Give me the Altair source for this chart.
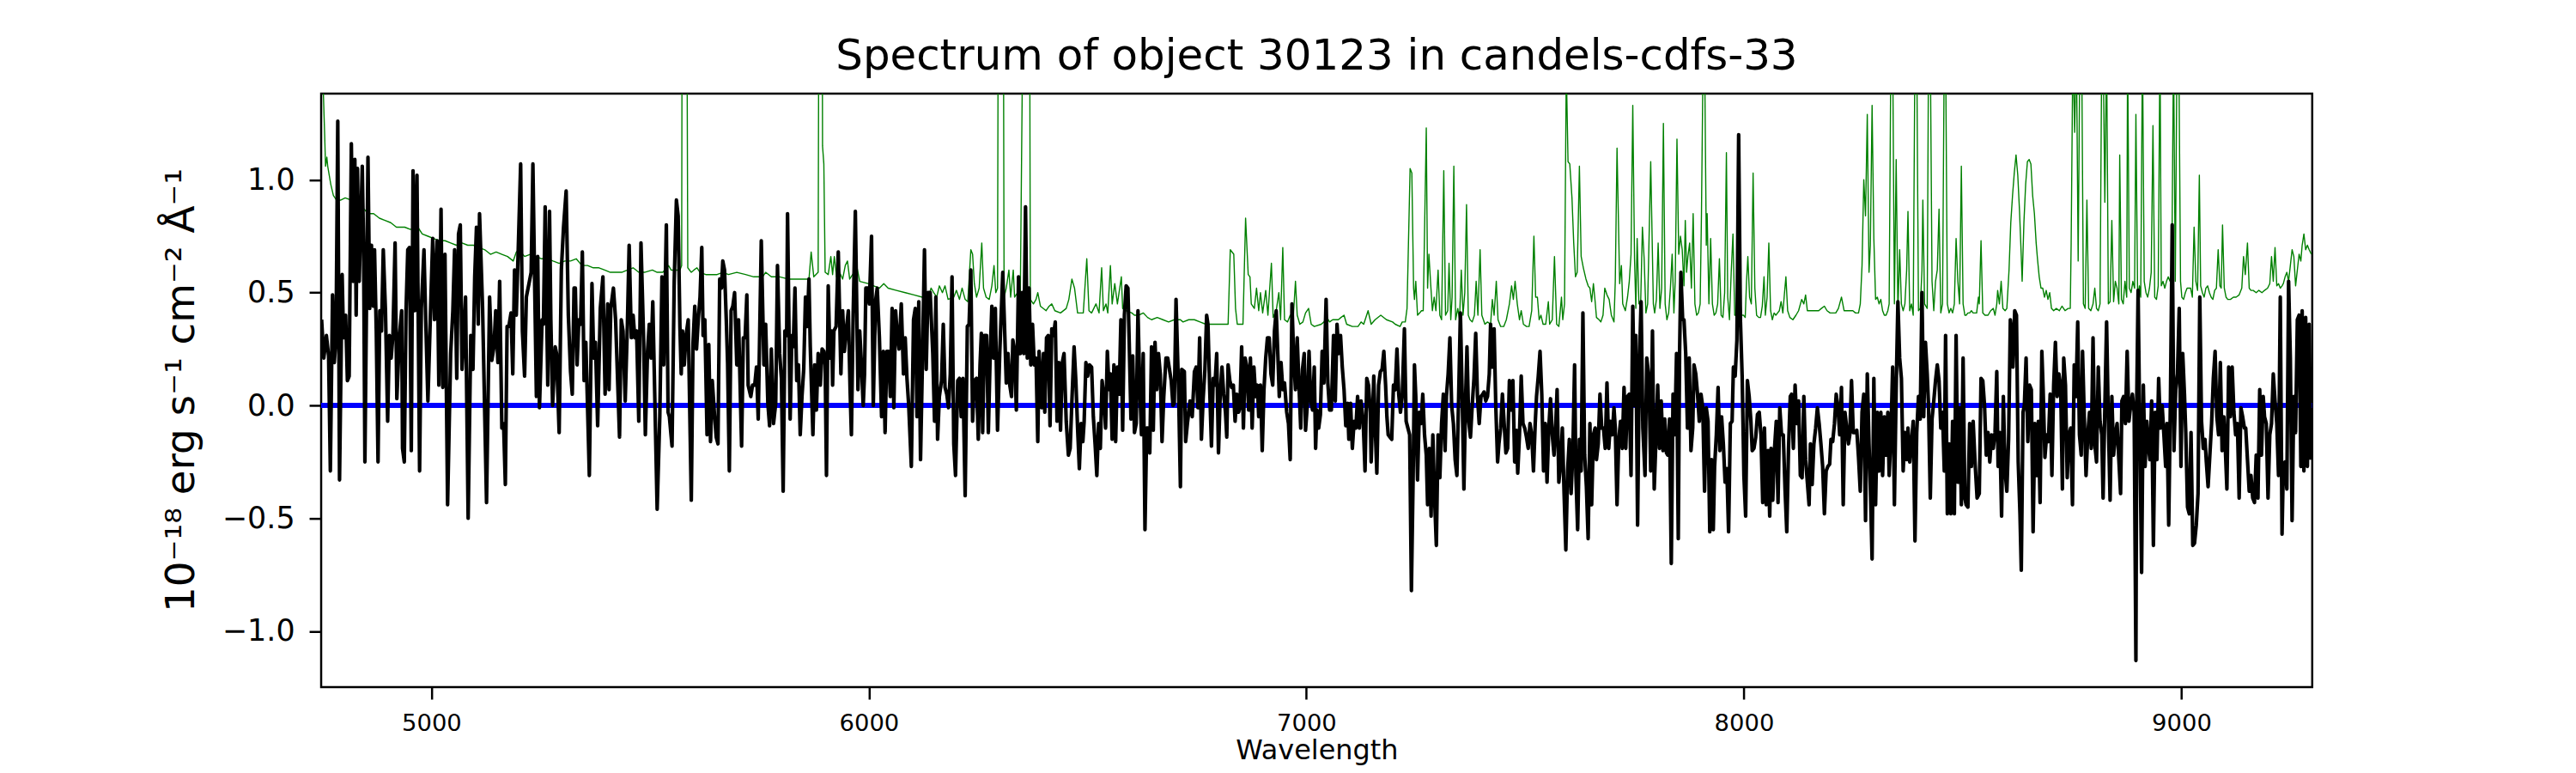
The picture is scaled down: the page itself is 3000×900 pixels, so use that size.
import altair as alt
import pandas as pd

# ---------------- black: object spectrum (flux) ----------------
a_wl = [4749, 4754, 4760, 4765, 4769, 4774, 4778, 4782, 4786, 4790,
        4796, 4799, 4804, 4808, 4812, 4817, 4821, 4825, 4828, 4831,
        4835, 4842, 4845, 4848, 4855, 4859, 4863, 4867, 4870, 4874,
        4878, 4882, 4886, 4890, 4895, 4900, 4904, 4908, 4912, 4917,
        4921, 4927, 4932, 4934, 4938, 4942, 4946, 4950, 4954, 4958,
        4962, 4967, 4973, 4977, 4983, 4987, 4992, 4998, 5003, 5007,
        5013, 5017, 5022, 5026, 5031, 5037, 5044, 5049, 5053, 5058,
        5062, 5066, 5070, 5074, 5078, 5084, 5090, 5095, 5099, 5103,
        5107, 5110, 5117, 5126, 5133, 5138, 5143, 5147, 5152, 5156,
        5161, 5165, 5169, 5173, 5177, 5182, 5186, 5190, 5194, 5198,
        5204, 5208, 5213, 5217, 5224, 5228, 5232, 5236, 5240, 5243,
        5247, 5253, 5256, 5260, 5266, 5270, 5273, 5277, 5283, 5286,
        5292, 5297, 5302, 5308, 5313, 5318, 5322, 5326, 5329, 5333,
        5337, 5341, 5345, 5349, 5353, 5361, 5367, 5371, 5375, 5380,
        5386, 5392, 5397, 5403, 5406, 5410, 5416, 5421, 5426, 5430,
        5434, 5438, 5443, 5448, 5452, 5457, 5461, 5465, 5469, 5474,
        5479, 5485, 5489, 5494, 5498, 5502, 5506]
a_flux = [0.38, 0.21, 0.31, 0.22, -0.29, 0.49, 0.19, 0.30, 1.26, -0.33,
          0.58, 0.30, 0.40, 0.11, 0.13, 1.16, 0.55, 1.09, 0.40, 1.05,
          0.55, 1.06, 0.70, -0.25, 1.10, 0.43, 0.71, 0.44, 0.69, 0.33,
          -0.25, 0.42, 0.33, 0.69, 0.42, -0.07, 0.31, 0.21, 0.31, 0.72,
          0.03, 0.31, 0.42, -0.19, -0.25, 0.42, 0.69, 0.70, -0.20, 1.04,
          0.42, 1.02, -0.29, 0.43, 0.69, 0.38, 0.02, 0.42, 0.74, 0.38,
          0.73, 0.09, 0.87, 0.08, 0.67, -0.44, 0.23, 0.42, 0.69, 0.12,
          0.76, 0.80, 0.16, 0.31, 0.48, -0.50, 0.31, 0.16, 0.57, 0.79,
          0.36, 0.85, 0.43, -0.43, 0.48, 0.20, 0.26, 0.42, 0.19, 0.55,
          -0.10, -0.08, -0.35, 0.35, 0.35, 0.41, 0.14, 0.60, 0.40, 0.66,
          1.07, 0.33, 0.13, 0.48, 0.55, 0.59, 1.07, 0.54, 0.04, 0.66,
          -0.01, 0.38, 0.36, 0.88, 0.09, 0.86, 0.38, 0.00, 0.26, 0.23,
          -0.12, 0.60, 0.79, 0.95, 0.40, 0.15, 0.05, 0.52, 0.52, 0.18,
          0.38, 0.36, 0.68, 0.11, 0.28, -0.31, 0.54, 0.21, 0.28, -0.09,
          0.43, 0.57, 0.05, 0.45, 0.07, 0.43, 0.52, 0.38, 0.09, -0.14,
          0.38, 0.33, 0.02, 0.36, 0.71, 0.30, 0.40, 0.30, 0.33, -0.07,
          0.72, 0.30, -0.13, 0.24, 0.36, 0.21, 0.46]

b_wl = [5516, 5522, 5527, 5531, 5537, 5541, 5544, 5550, 5555, 5560,
        5564, 5568, 5571, 5574, 5578, 5582, 5587, 5594, 5598, 5602,
        5606, 5610, 5614, 5618, 5621, 5625, 5630, 5634, 5638, 5642,
        5647, 5651, 5655, 5659, 5663, 5666, 5670, 5674, 5677, 5681,
        5685, 5689, 5693, 5698, 5702, 5709, 5713, 5717, 5721, 5724,
        5730, 5734, 5739, 5743, 5747, 5754, 5760, 5764, 5769, 5773,
        5777, 5782, 5787, 5791, 5796, 5800, 5804, 5808, 5812, 5814,
        5820, 5824, 5827, 5831, 5835, 5839, 5843, 5847, 5851, 5855,
        5859, 5863, 5866, 5872, 5876, 5880, 5884, 5889, 5893, 5897,
        5900, 5903, 5907, 5911, 5915, 5917, 5920, 5925, 5930, 5936,
        5940, 5944, 5947, 5953, 5957, 5960, 5964, 5969, 5975, 5979,
        5983, 5987, 5990, 5993, 5998, 6001, 6006, 6010, 6015, 6019,
        6024, 6029, 6033, 6037, 6041, 6045, 6049, 6053, 6057, 6061,
        6065, 6069, 6074, 6079, 6083, 6087, 6091, 6097, 6102, 6106,
        6110, 6114, 6118, 6122, 6127, 6131, 6135, 6140, 6146, 6150,
        6153, 6157, 6161, 6166, 6170, 6174, 6178, 6182, 6186, 6190,
        6194, 6198, 6203, 6207, 6211, 6215, 6220, 6225, 6229, 6233,
        6237, 6241, 6246, 6250, 6254, 6257, 6260, 6264]
b_flux = [-0.46, -0.05, 0.57, 0.18, 0.80, -0.03, -0.05, -0.18, 0.55, 0.91,
          0.84, 0.35, 0.14, 0.33, 0.18, 0.31, 0.38, -0.42, 0.28, 0.44,
          0.25, 0.38, 0.48, 0.70, 0.31, 0.38, -0.13, 0.27, -0.16, 0.11,
          -0.04, -0.14, -0.17, 0.56, 0.52, 0.64, 0.60, 0.38, 0.19, -0.29,
          0.42, 0.44, 0.50, 0.18, 0.38, -0.18, 0.30, 0.30, 0.49, 0.09,
          0.04, 0.09, 0.09, 0.17, -0.06, 0.73, 0.18, 0.36, 0.01, -0.09,
          0.25, -0.08, 0.01, 0.62, 0.23, 0.12, -0.38, 0.33, 0.31, 0.85,
          -0.06, 0.31, 0.26, 0.52, 0.11, 0.18, -0.13, 0.04, 0.16, 0.48,
          0.35, 0.56, 0.26, -0.13, 0.18, -0.02, 0.23, 0.09, 0.25, 0.24,
          0.18, -0.31, 0.53, 0.21, 0.33, 0.09, 0.33, 0.35, 0.68, 0.14,
          0.42, 0.24, 0.31, 0.42, 0.07, -0.13, 0.40, 0.86, 0.07, 0.33,
          0.18, 0.00, 0.14, 0.52, 0.52, 0.45, 0.75, 0.00, 0.46, 0.52,
          0.30, -0.05, 0.24, -0.12, 0.24, 0.24, 0.04, 0.43, -0.01, 0.42,
          0.31, 0.25, 0.45, 0.14, 0.30, 0.12, 0.00, -0.27, 0.38, 0.43,
          -0.05, 0.46, -0.24, 0.16, 0.69, 0.16, 0.50, 0.50, 0.23, -0.07,
          0.48, -0.15, 0.04, 0.11, 0.36, 0.08, 0.05, -0.01, 0.14, 0.57,
          -0.17, -0.31, 0.11, 0.12, -0.05, 0.12, -0.40, 0.35, 0.36, 0.60,
          -0.07, 0.11, 0.12, -0.15, 0.18, 0.32, -0.12, 0.31]

c_wl = [6269, 6273, 6277, 6281, 6285, 6289, 6294, 6299, 6306, 6310,
        6314, 6318, 6322, 6326, 6329, 6333, 6337, 6342, 6346, 6350,
        6354, 6358, 6362, 6366, 6370, 6374, 6378, 6382, 6386, 6389,
        6395, 6399, 6402, 6406, 6410, 6414, 6418, 6422, 6426, 6430,
        6434, 6438, 6442, 6446, 6451, 6456, 6460, 6464, 6469, 6473,
        6477, 6481, 6485, 6489, 6492, 6496, 6500, 6504, 6509, 6513,
        6517, 6521, 6525, 6529, 6533, 6537, 6541, 6545, 6549, 6552,
        6556, 6560, 6564, 6568, 6572, 6576, 6580, 6584, 6588, 6592,
        6595, 6599, 6603, 6607, 6611, 6615, 6619, 6623, 6627, 6631,
        6635, 6638, 6642, 6646, 6650, 6654, 6658, 6662, 6666, 6670,
        6674, 6679, 6683, 6687, 6691, 6695, 6698, 6702, 6708, 6712,
        6715, 6721, 6724, 6728, 6734, 6739, 6744, 6748, 6752, 6756,
        6760, 6764, 6768, 6772, 6775, 6779, 6783, 6787, 6791, 6795,
        6799, 6803, 6807, 6811, 6815, 6818, 6821, 6825, 6829, 6833,
        6837, 6841, 6845, 6848, 6852, 6856, 6860, 6864, 6868, 6872,
        6876, 6880, 6884, 6888, 6891, 6895, 6899, 6903, 6907, 6911,
        6915, 6919, 6923, 6927, 6931, 6935, 6938, 6942, 6946, 6950,
        6955, 6959, 6963, 6967, 6971, 6975, 6979, 6983, 6987, 6991,
        6995, 6998, 7002, 7006, 7010, 7014, 7018]
c_flux = [0.31, -0.12, 0.21, 0.44, 0.21, 0.43, -0.11, 0.23, 0.59, 0.35,
          0.10, 0.23, 0.09, 0.04, 0.29, 0.24, -0.02, 0.57, 0.23, 0.50,
          0.23, 0.88, 0.21, 0.52, 0.18, 0.36, 0.18, 0.21, -0.16, 0.24,
          -0.01, 0.23, -0.03, 0.30, 0.31, -0.09, 0.34, 0.31, 0.37, -0.07,
          0.19, -0.11, 0.19, 0.23, -0.07, -0.22, -0.19, 0.02, 0.26, 0.11,
          -0.10, -0.28, -0.08, -0.16, -0.07, 0.19, 0.13, 0.18, 0.17, -0.05,
          -0.17, -0.31, -0.08, -0.19, 0.11, 0.04, -0.10, 0.24, 0.07, 0.14,
          -0.15, 0.18, -0.16, 0.17, 0.05, 0.38, -0.11, 0.40, 0.53, 0.52,
          0.28, -0.06, 0.22, -0.12, -0.08, 0.42, 0.09, -0.13, 0.23, -0.55,
          -0.10, -0.10, -0.21, 0.26, -0.11, 0.28, 0.07, 0.23, 0.14, -0.16,
          0.04, 0.21, 0.21, 0.16, 0.11, 0.00, 0.01, 0.47, 0.05, -0.36,
          0.16, 0.15, -0.16, -0.08, 0.02, -0.05, 0.15, 0.17, -0.01, 0.30,
          -0.15, 0.03, 0.16, 0.40, 0.36, 0.07, -0.18, 0.12, 0.09, 0.23,
          -0.21, 0.05, 0.17, 0.05, -0.03, -0.14, 0.18, 0.11, 0.08, 0.09,
          -0.07, 0.05, -0.03, -0.01, 0.26, -0.10, 0.21, 0.17, -0.02, 0.21,
          -0.10, 0.17, 0.04, 0.09, -0.05, 0.09, -0.20, 0.07, 0.21, 0.30,
          0.30, 0.14, 0.09, 0.33, 0.42, 0.21, 0.04, 0.19, 0.07, 0.10,
          -0.03, -0.08, -0.24, 0.45, 0.21, 0.07, 0.30, 0.09, -0.10, 0.16,
          0.23, -0.11, 0.00, 0.24, 0.02, -0.02, 0.17]

d_wl = [7021, 7024, 7028, 7032, 7036, 7040, 7045, 7049, 7053, 7057,
        7062, 7066, 7070, 7074, 7078, 7082, 7086, 7090, 7094, 7097,
        7101, 7105, 7109, 7113, 7117, 7121, 7125, 7130, 7134, 7138,
        7142, 7146, 7148, 7154, 7157, 7161, 7165, 7169, 7173, 7177,
        7181, 7184, 7187, 7191, 7195, 7199, 7203, 7207, 7211, 7215,
        7219, 7224, 7228, 7232, 7236, 7240, 7244, 7247, 7250, 7254,
        7258, 7262, 7266, 7270, 7274, 7277, 7281, 7285, 7289, 7293,
        7297, 7301, 7305, 7309, 7313, 7317, 7320, 7324, 7328, 7332,
        7336, 7340, 7344, 7348, 7352, 7356, 7360, 7364, 7367, 7371,
        7375, 7379, 7383, 7387, 7391, 7395, 7399, 7403, 7406, 7410,
        7414, 7418, 7421, 7425, 7429, 7433, 7437, 7440, 7444, 7448,
        7452, 7456, 7460, 7464, 7468, 7472, 7476, 7480, 7483, 7487,
        7491, 7495, 7499, 7503, 7507, 7511, 7515, 7519, 7523, 7526,
        7530, 7534, 7538, 7542, 7546, 7550, 7554, 7558, 7562, 7566,
        7570, 7573, 7577, 7581, 7585, 7589, 7593, 7597, 7601, 7605,
        7609, 7613, 7616, 7620, 7624, 7628, 7632, 7636, 7640, 7644,
        7648, 7652, 7656, 7660, 7663, 7667, 7671, 7675, 7679, 7683,
        7687, 7691, 7695, 7699, 7703, 7706, 7710, 7714, 7718, 7722,
        7726, 7730, 7734, 7738, 7742, 7746, 7750, 7753, 7757, 7761,
        7765, 7769, 7774, 7778]
d_flux = [-0.19, -0.02, -0.10, -0.04, 0.24, 0.10, 0.47, 0.10, -0.02, -0.02,
          0.31, 0.02, 0.36, 0.23, 0.31, 0.17, 0.07, -0.09, 0.01, -0.15,
          0.01, -0.19, -0.07, -0.10, 0.04, -0.10, 0.02, -0.08, -0.29, 0.12,
          0.09, -0.03, -0.25, 0.13, -0.08, -0.30, 0.09, 0.15, 0.16, 0.24,
          0.09, -0.05, -0.13, -0.14, -0.15, 0.09, 0.07, 0.25, 0.05, -0.03,
          0.04, 0.34, -0.07, -0.10, -0.13, -0.82, -0.31, 0.18, 0.04, -0.33,
          -0.03, -0.08, 0.05, -0.13, -0.22, -0.44, -0.19, -0.49, -0.13, -0.41,
          -0.62, -0.13, -0.32, -0.08, 0.05, -0.20, 0.04, 0.14, 0.30, 0.00,
          -0.08, -0.24, -0.31, 0.04, 0.41, 0.05, -0.37, 0.04, 0.26, -0.07,
          -0.14, 0.00, 0.12, 0.32, 0.04, -0.08, 0.04, 0.05, 0.06, 0.02,
          0.04, 0.14, 0.36, 0.17, 0.34, -0.01, -0.25, -0.17, -0.10, 0.05,
          -0.08, -0.21, -0.19, 0.11, -0.02, 0.11, -0.25, -0.11, -0.30, -0.13,
          0.13, -0.08, -0.10, -0.14, -0.19, -0.08, -0.13, -0.29, -0.08, 0.04,
          0.13, 0.24, 0.05, -0.29, -0.08, -0.34, -0.10, 0.03, -0.13, -0.22,
          -0.08, 0.07, -0.34, -0.26, -0.10, -0.39, -0.64, -0.29, -0.15, -0.39,
          -0.21, 0.18, -0.31, -0.55, -0.15, -0.29, 0.41, -0.22, -0.36, -0.59,
          -0.08, -0.44, -0.13, -0.10, -0.24, -0.17, 0.05, -0.10, -0.10, -0.19,
          0.10, -0.19, -0.07, -0.13, -0.01, -0.10, -0.44, -0.15, -0.07, -0.19,
          0.08, -0.19, 0.04, 0.05, -0.31, 0.44, 0.00, 0.31, -0.53, 0.18,
          0.46, -0.10, -0.31, 0.21]

e_wl = [7783, 7787, 7791, 7795, 7799, 7803, 7807, 7811, 7815, 7819,
        7823, 7826, 7830, 7834, 7838, 7842, 7846, 7850, 7853, 7856,
        7860, 7863, 7867, 7871, 7875, 7879, 7883, 7886, 7890, 7894,
        7898, 7902, 7906, 7910, 7914, 7918, 7922, 7926, 7930, 7933,
        7937, 7941, 7945, 7949, 7953, 7957, 7961, 7965, 7969, 7973,
        7976, 7980, 7984, 7988, 7992, 7996, 8000, 8004, 8008, 8012,
        8016, 8019, 8023, 8027, 8031, 8035, 8039, 8043, 8047, 8051,
        8055, 8059, 8062, 8066, 8070, 8074, 8078, 8082, 8086, 8090,
        8094, 8098, 8102, 8106, 8109, 8113, 8117, 8121, 8125, 8129,
        8133, 8137, 8141, 8145, 8149, 8152, 8156, 8160, 8164, 8168,
        8172, 8176, 8180, 8184, 8188, 8192, 8196, 8199, 8203, 8207,
        8211, 8215, 8219, 8223, 8227, 8231, 8235, 8239, 8242, 8246,
        8250, 8254, 8258, 8262, 8266, 8270, 8274, 8278, 8282, 8286,
        8289, 8293, 8297, 8301, 8305, 8309, 8313, 8317, 8321, 8325,
        8329, 8332, 8336, 8340, 8344, 8348, 8352, 8356, 8360, 8364,
        8368, 8372, 8375, 8379, 8383, 8387, 8391, 8395, 8399, 8403,
        8407, 8411, 8415, 8419, 8422, 8426, 8430, 8434, 8438, 8442,
        8446, 8450, 8454, 8458, 8461, 8465, 8469, 8473, 8477, 8481,
        8485, 8489, 8493, 8497, 8501, 8505, 8508, 8512, 8516, 8520,
        8524, 8528, 8533]
e_flux = [0.12, -0.29, 0.33, -0.37, -0.15, 0.09, -0.19, 0.02, -0.20, -0.06,
          -0.21, -0.22, -0.06, -0.70, 0.05, -0.13, 0.23, -0.59, 0.24, 0.59,
          0.38, 0.38, 0.23, -0.10, 0.21, -0.20, -0.10, 0.18, 0.14, 0.05,
          -0.07, 0.05, -0.01, -0.38, -0.01, -0.07, -0.56, -0.24, -0.55, -0.27,
          -0.13, 0.08, -0.20, -0.05, -0.17, -0.34, -0.28, -0.56, -0.08, -0.07,
          0.17, 0.13, 0.29, 1.20, 0.38, 0.13, -0.31, -0.49, 0.11, 0.04,
          -0.07, -0.20, -0.19, -0.14, -0.04, -0.03, -0.13, -0.43, -0.10, -0.44,
          -0.20, -0.49, -0.19, -0.42, -0.19, -0.07, -0.43, -0.01, -0.13, -0.13,
          -0.37, -0.56, -0.19, 0.04, 0.05, -0.19, 0.09, -0.08, 0.02, -0.31,
          -0.32, 0.04, -0.24, -0.34, -0.44, -0.17, -0.35, -0.17, -0.10, -0.01,
          -0.08, -0.17, -0.27, -0.48, -0.29, -0.27, -0.26, -0.15, -0.16, -0.08,
          0.05, -0.01, -0.13, 0.08, -0.44, -0.03, -0.10, -0.17, -0.13, 0.11,
          -0.12, -0.12, -0.11, -0.23, -0.38, -0.03, 0.05, -0.51, 0.14, -0.17,
          -0.36, -0.68, 0.12, -0.44, -0.03, -0.29, -0.03, -0.31, -0.05, -0.22,
          -0.03, -0.31, -0.13, 0.17, -0.44, 0.07, 0.46, 0.21, 0.12, -0.29,
          -0.12, -0.24, -0.10, -0.25, -0.16, -0.07, -0.60, -0.12, 0.04, -0.06,
          0.50, -0.05, 0.28, 0.14, 0.00, -0.41, -0.06, 0.02, 0.11, 0.18,
          0.11, -0.10, -0.03, -0.29, 0.31, -0.48, -0.17, -0.48, -0.07, -0.48,
          0.31, -0.34, -0.01, -0.44, 0.21, -0.41, -0.44, -0.45, -0.08, -0.27,
          -0.07, -0.24, -0.41]

f_wl = [8538, 8542, 8546, 8550, 8554, 8558, 8562, 8566, 8570, 8574,
        8578, 8581, 8585, 8589, 8593, 8597, 8601, 8605, 8609, 8613,
        8615, 8619, 8623, 8627, 8631, 8634, 8638, 8641, 8645, 8649,
        8653, 8657, 8661, 8665, 8669, 8673, 8677, 8681, 8684, 8688,
        8692, 8696, 8700, 8704, 8708, 8712, 8716, 8720, 8724, 8728,
        8731, 8735, 8739, 8743, 8747, 8751, 8755, 8759, 8763, 8767,
        8771, 8774, 8778, 8782, 8786, 8790, 8794, 8798, 8802, 8806,
        8810, 8814, 8818, 8821, 8825, 8829, 8833, 8837, 8841, 8845,
        8849, 8853, 8857, 8861, 8864, 8868, 8872, 8876, 8880, 8884,
        8888, 8892, 8896, 8898, 8901, 8905, 8909, 8913, 8917, 8921,
        8924, 8928, 8932, 8936, 8940, 8944, 8948, 8952, 8956, 8960,
        8964, 8967, 8971, 8975, 8979, 8983, 8987, 8991, 8995, 8999,
        9003, 9007, 9010, 9014, 9018, 9022, 9026, 9030, 9034, 9038,
        9042, 9046, 9050, 9054, 9057, 9061, 9065, 9069, 9073, 9077,
        9081, 9085, 9089, 9093, 9097, 9100, 9104, 9108, 9112, 9116,
        9120, 9124, 9128, 9132, 9136, 9140, 9144, 9147, 9151, 9155,
        9159, 9163, 9167, 9171, 9175, 9179, 9183, 9187, 9190, 9194,
        9198, 9202, 9206, 9210, 9214, 9218, 9222, 9226, 9230, 9233,
        9237, 9241, 9245, 9249, 9253, 9257, 9261, 9265, 9269, 9273,
        9276, 9280, 9284, 9288, 9292, 9296]
f_flux = [-0.39, 0.12, 0.11, 0.00, -0.22, -0.12, -0.25, -0.13, -0.19, -0.12,
          0.15, -0.27, -0.12, -0.49, 0.04, -0.29, -0.38, -0.15, 0.38, 0.31,
          0.17, 0.42, 0.40, -0.25, -0.48, -0.73, -0.03, 0.00, 0.21, -0.16,
          0.09, 0.07, -0.56, -0.08, -0.31, -0.07, -0.43, 0.24, 0.07, -0.23,
          -0.13, -0.16, 0.05, -0.31, 0.09, 0.28, 0.04, 0.14, 0.09, -0.37,
          0.21, 0.09, -0.32, -0.13, -0.10, -0.44, 0.18, 0.04, 0.37, -0.13,
          -0.22, 0.24, -0.05, -0.31, -0.13, -0.03, -0.19, 0.30, -0.17, -0.25,
          0.17, -0.07, -0.13, -0.41, -0.01, 0.37, -0.07, -0.42, 0.04, -0.22,
          -0.13, -0.08, -0.24, -0.39, 0.02, 0.04, -0.08, 0.24, -0.07, 0.00,
          0.05, -0.03, -1.13, 0.04, 0.51, -0.13, -0.74, 0.09, -0.27, -0.07,
          -0.17, -0.24, 0.02, -0.62, -0.03, -0.24, 0.12, -0.10, 0.00, -0.13,
          -0.27, -0.08, -0.53, 0.04, 0.80, -0.20, 0.07, 0.14, 0.43, -0.27,
          0.23, 0.05, -0.12, -0.45, -0.48, -0.12, -0.62, -0.61, -0.53, -0.39,
          0.48, -0.07, -0.19, -0.15, -0.25, -0.36, -0.22, -0.08, 0.12, 0.24,
          -0.05, -0.13, 0.19, -0.20, -0.05, -0.17, -0.37, 0.17, -0.05, 0.17,
          -0.03, -0.13, -0.08, -0.41, -0.01, -0.05, -0.10, -0.10, -0.24, -0.38,
          -0.31, -0.41, -0.43, -0.22, -0.41, 0.07, -0.22, 0.04, -0.05, -0.08,
          -0.41, -0.13, -0.08, 0.14, 0.02, -0.08, -0.31, 0.48, -0.57, -0.27,
          -0.25, -0.37, 0.55, 0.21, -0.51, 0.04, -0.12, 0.38, 0.40, -0.27,
          0.42, -0.29, 0.39, -0.27, 0.36, -0.24]

# ---------------- green: noise / sky spectrum ----------------
ga_wl = [4748, 4752, 4756, 4758, 4761, 4763, 4770, 4776, 4783, 4793,
         4803, 4816, 4829, 4842, 4855, 4868, 4881, 4894, 4907, 4920,
         4939, 4952, 4969, 4979, 4992, 5005, 5018, 5031, 5044, 5057,
         5070, 5083, 5096, 5109, 5122, 5135, 5148, 5161, 5174, 5187,
         5194, 5200, 5213, 5226, 5239, 5252, 5265, 5278, 5292, 5305,
         5318, 5331, 5344, 5357, 5370, 5383, 5396, 5409, 5422, 5435,
         5448, 5461, 5474, 5487, 5505]
ga_flux = [1.6, 1.45, 1.20, 1.06, 1.10, 1.06, 0.98, 0.93, 0.91, 0.91,
           0.92, 0.91, 0.89, 0.88, 0.85, 0.85, 0.83, 0.82, 0.81, 0.79,
           0.79, 0.78, 0.79, 0.76, 0.75, 0.74, 0.73, 0.73, 0.72, 0.71,
           0.72, 0.71, 0.71, 0.70, 0.69, 0.67, 0.68, 0.67, 0.66, 0.64,
           0.68, 0.69, 0.66, 0.67, 0.66, 0.65, 0.65, 0.64, 0.63, 0.64,
           0.64, 0.65, 0.62, 0.62, 0.61, 0.61, 0.60, 0.59, 0.59, 0.59,
           0.60, 0.61, 0.59, 0.59, 0.60]

gb_wl = [5516, 5529, 5542, 5548, 5568, 5572, 5574, 5582, 5586, 5594,
         5600, 5607, 5614, 5627, 5640, 5653, 5666, 5679, 5698, 5718,
         5737, 5757, 5764, 5777, 5796, 5816, 5835, 5855, 5863, 5868,
         5874, 5884, 5887, 5892, 5894, 5897, 5900, 5907, 5913, 5917,
         5921, 5926, 5933, 5940, 5946, 5951, 5956, 5966, 5972, 5979,
         5998, 6011, 6024, 6034, 6044, 6063, 6083, 6103, 6122, 6135,
         6142, 6148, 6155, 6161, 6168, 6174, 6181, 6194, 6200, 6207,
         6213, 6220, 6226, 6233, 6237, 6241, 6246, 6252, 6258, 6262]
gb_flux = [0.59, 0.59, 0.62, 0.60, 0.60, 0.62, 3.0, 3.0, 0.61, 0.59,
           0.60, 0.61, 0.59, 0.58, 0.58, 0.58, 0.59, 0.58, 0.59, 0.58,
           0.57, 0.57, 0.59, 0.57, 0.57, 0.56, 0.56, 0.56, 0.56, 0.68,
           0.57, 0.59, 3.0, 3.0, 1.15, 1.07, 0.59, 0.58, 0.66, 0.58,
           0.66, 0.57, 0.59, 0.56, 0.62, 0.64, 0.56, 0.59, 0.62, 0.55,
           0.54, 0.53, 0.52, 0.54, 0.52, 0.51, 0.50, 0.49, 0.48, 0.47,
           0.52, 0.50, 0.48, 0.53, 0.50, 0.53, 0.47, 0.48, 0.51, 0.47,
           0.52, 0.47, 0.46, 0.69, 0.67, 0.54, 0.48, 0.52, 0.72, 0.52]

gc_wl = [6268, 6275, 6281, 6286, 6290, 6294, 6297, 6306, 6309, 6314,
         6320, 6324, 6330, 6333, 6340, 6346, 6358, 6366, 6369, 6376,
         6382, 6386, 6392, 6405, 6412, 6418, 6425, 6438, 6451, 6457,
         6464, 6470, 6477, 6490, 6498, 6503, 6509, 6519, 6526, 6532,
         6536, 6542, 6546, 6552, 6556, 6562, 6568, 6577, 6580, 6588,
         6601, 6607, 6617, 6627, 6637, 6646, 6659, 6672, 6685, 6698,
         6712, 6718, 6731, 6744, 6757, 6770, 6783, 6796, 6821, 6826,
         6834, 6838, 6842, 6855, 6861, 6867, 6871, 6874, 6881, 6886,
         6891, 6895, 6900, 6907, 6912, 6920, 6924, 6931, 6937, 6941,
         6946, 6950, 6957, 6963, 6969, 6975, 6979, 6985, 6992, 6998,
         7005, 7011, 7018]
gc_flux = [0.48, 0.47, 0.53, 0.62, 0.50, 0.52, 3.0, 3.0, 0.48, 0.52,
           0.60, 0.48, 0.60, 0.48, 0.50, 0.47, 3.0, 3.0, 0.47, 0.45,
           0.47, 0.50, 0.44, 0.42, 0.44, 0.45, 0.42, 0.41, 0.43, 0.47,
           0.56, 0.52, 0.41, 0.41, 0.65, 0.42, 0.41, 0.45, 0.41, 0.61,
           0.42, 0.45, 0.41, 0.62, 0.45, 0.54, 0.45, 0.57, 0.43, 0.42,
           0.41, 0.40, 0.40, 0.41, 0.39, 0.38, 0.39, 0.38, 0.37, 0.38,
           0.38, 0.37, 0.38, 0.38, 0.37, 0.36, 0.36, 0.36, 0.36, 0.69,
           0.67, 0.43, 0.36, 0.36, 0.83, 0.58, 0.57, 0.45, 0.43, 0.52,
           0.42, 0.50, 0.41, 0.51, 0.40, 0.63, 0.39, 0.42, 0.50, 0.38,
           0.70, 0.38, 0.37, 0.40, 0.36, 0.55, 0.40, 0.36, 0.37, 0.41,
           0.43, 0.36, 0.35]

gd_wl = [7034, 7040, 7047, 7053, 7060, 7073, 7079, 7086, 7092, 7105,
         7118, 7125, 7131, 7141, 7148, 7157, 7170, 7183, 7197, 7203,
         7214, 7219, 7226, 7230, 7237, 7241, 7245, 7247, 7250, 7254,
         7259, 7263, 7267, 7274, 7277, 7280, 7284, 7288, 7292, 7296,
         7301, 7305, 7309, 7314, 7318, 7323, 7326, 7330, 7333, 7337,
         7341, 7346, 7350, 7354, 7358, 7362, 7366, 7370, 7374, 7379,
         7384, 7388, 7392, 7397, 7401, 7408, 7414, 7421, 7425, 7429,
         7434, 7438, 7444, 7451, 7457, 7464, 7469, 7473, 7477, 7482,
         7487, 7491, 7496, 7503, 7509, 7515, 7520, 7524, 7528, 7532,
         7536, 7541, 7547, 7553, 7556, 7562, 7567, 7572, 7577, 7583,
         7586, 7590, 7594, 7598, 7602, 7607, 7611, 7615, 7619, 7624,
         7628, 7633, 7639, 7644, 7648, 7652, 7656, 7660, 7663, 7669,
         7673, 7678, 7682, 7687, 7692, 7697, 7703, 7706, 7710, 7716,
         7720, 7723, 7729, 7734, 7738, 7742, 7746, 7750, 7753, 7756,
         7760, 7764, 7768, 7772, 7776]
gd_flux = [0.36, 0.37, 0.39, 0.37, 0.38, 0.38, 0.39, 0.40, 0.36, 0.35,
           0.35, 0.37, 0.36, 0.42, 0.36, 0.38, 0.40, 0.38, 0.37, 0.36,
           0.35, 0.37, 0.37, 0.43, 1.05, 1.03, 0.52, 0.47, 0.55, 0.40,
           0.41, 0.42, 0.42, 1.23, 0.52, 0.67, 0.54, 0.42, 0.48, 0.42,
           0.60, 0.40, 0.38, 1.04, 0.40, 0.42, 0.63, 0.38, 0.48, 1.06,
           0.38, 0.43, 0.38, 0.60, 0.40, 0.50, 0.89, 0.40, 0.38, 0.37,
           0.40, 0.55, 0.40, 0.69, 0.40, 0.36, 0.37, 0.36, 0.47, 0.40,
           0.55, 0.38, 0.35, 0.35, 0.38, 0.45, 0.53, 0.47, 0.55, 0.45,
           0.38, 0.42, 0.36, 0.35, 0.35, 0.42, 0.75, 0.48, 0.48, 0.38,
           0.40, 0.36, 0.36, 0.46, 0.36, 0.38, 0.66, 0.36, 0.35, 0.48,
           0.38, 0.45, 1.5, 1.08, 1.07, 0.92, 0.72, 0.57, 0.59, 1.06,
           0.66, 0.61, 0.56, 0.53, 0.52, 0.46, 0.54, 0.46, 0.39, 0.38,
           0.37, 0.40, 0.52, 0.49, 0.47, 0.40, 0.37, 0.55, 1.14, 0.54,
           0.62, 0.45, 0.42, 0.48, 0.55, 0.67, 1.33, 0.65, 0.43, 0.74,
           0.45, 0.45, 0.79, 0.65, 0.41]

ge_wl = [7780, 7787, 7793, 7796, 7800, 7804, 7808, 7812, 7816, 7820,
         7824, 7828, 7832, 7836, 7840, 7843, 7847, 7851, 7855, 7859,
         7863, 7866, 7869, 7872, 7876, 7880, 7884, 7888, 7892, 7896,
         7900, 7903, 7907, 7910, 7914, 7916, 7920, 7924, 7928, 7932,
         7936, 7940, 7944, 7948, 7952, 7956, 7960, 7963, 7967, 7971,
         7975, 7979, 7983, 7987, 7991, 7995, 7999, 8003, 8006, 8009,
         8013, 8017, 8021, 8025, 8029, 8034, 8038, 8042, 8046, 8049,
         8053, 8057, 8061, 8065, 8069, 8073, 8077, 8081, 8085, 8089,
         8092, 8096, 8100, 8105, 8112, 8119, 8125, 8132, 8137, 8141,
         8145, 8151, 8158, 8164, 8171, 8177, 8184, 8190, 8197, 8203,
         8210, 8216, 8223, 8229, 8236, 8242, 8249, 8255, 8262, 8266,
         8270, 8274, 8278, 8282, 8286, 8289, 8293, 8297, 8301, 8305,
         8309, 8313, 8317, 8321, 8325, 8329, 8332, 8336, 8340, 8344,
         8348, 8352, 8356, 8360, 8364, 8368, 8372, 8375, 8379, 8383,
         8387, 8391, 8395, 8399, 8403, 8407, 8409, 8413, 8419, 8422,
         8426, 8430, 8434, 8438, 8442, 8446, 8450, 8454, 8458, 8461,
         8465, 8469, 8473, 8477, 8481, 8485, 8489, 8493, 8497, 8501,
         8505, 8508, 8512, 8516, 8520, 8524, 8528, 8532, 8536]
ge_flux = [0.45, 1.08, 0.45, 0.41, 0.47, 0.72, 0.43, 0.52, 1.25, 0.45,
           0.38, 0.41, 0.52, 0.67, 0.41, 0.55, 1.18, 0.67, 0.75, 0.69,
           0.53, 0.82, 0.59, 0.66, 0.72, 0.52, 0.85, 0.45, 0.40, 0.41,
           0.45, 0.85, 1.6, 1.6, 0.71, 0.85, 0.45, 0.74, 0.45, 0.40,
           0.41, 0.45, 0.65, 0.40, 0.39, 0.50, 1.12, 0.48, 0.38, 0.59,
           0.76, 0.40, 0.40, 0.41, 0.48, 0.40, 0.40, 0.39, 0.55, 0.66,
           0.48, 0.45, 1.03, 0.52, 0.40, 0.39, 0.39, 0.44, 0.57, 0.40,
           0.48, 0.72, 0.42, 0.38, 0.41, 0.40, 0.41, 0.42, 0.46, 0.41,
           0.48, 0.57, 0.42, 0.39, 0.38, 0.40, 0.42, 0.47, 0.45, 0.49,
           0.42, 0.42, 0.42, 0.42, 0.42, 0.43, 0.44, 0.42, 0.41, 0.41,
           0.41, 0.43, 0.48, 0.42, 0.42, 0.42, 0.42, 0.41, 0.41, 0.45,
           0.62, 1.00, 0.84, 1.29, 0.59, 0.71, 1.33, 0.74, 0.47, 0.48,
           0.45, 0.47, 0.42, 0.40, 0.40, 0.42, 0.45, 1.6, 1.6, 0.45,
           1.09, 0.42, 0.69, 0.45, 0.42, 0.45, 0.60, 0.86, 0.42, 0.45,
           0.40, 1.6, 1.6, 0.42, 0.43, 0.60, 0.91, 0.45, 0.43, 1.6,
           1.6, 0.55, 0.42, 0.55, 0.60, 0.87, 0.41, 0.45, 1.6, 1.6,
           0.45, 0.41, 0.43, 0.41, 0.45, 0.74, 0.55, 0.45, 1.06, 0.45,
           0.40, 0.40, 0.41, 0.41, 0.42, 0.41, 0.41, 0.41, 0.48]

gf_wl = [8538, 8542, 8546, 8551, 8558, 8564, 8570, 8574, 8578, 8580,
         8584, 8588, 8592, 8597, 8601, 8606, 8610, 8614, 8618, 8622,
         8626, 8630, 8634, 8636, 8640, 8644, 8648, 8652, 8656, 8660,
         8664, 8668, 8671, 8675, 8679, 8683, 8687, 8691, 8695, 8699,
         8703, 8708, 8714, 8721, 8727, 8734, 8741, 8746, 8748, 8752,
         8756, 8760, 8764, 8768, 8772, 8776, 8780, 8784, 8788, 8793,
         8798, 8802, 8806, 8810, 8814, 8818, 8821, 8825, 8829, 8833,
         8837, 8841, 8845, 8849, 8853, 8857, 8859, 8863, 8867, 8871,
         8875, 8877, 8881, 8885, 8889, 8893, 8896, 8900, 8904, 8907,
         8911, 8915, 8919, 8923, 8927, 8931, 8935, 8939, 8943, 8947,
         8951, 8954, 8958, 8962, 8966, 8970, 8974, 8978, 8982, 8986,
         8990, 8994, 8998, 9001, 9005, 9009, 9013, 9017, 9021, 9025,
         9029, 9033, 9037, 9041, 9044, 9048, 9052, 9056, 9060, 9064,
         9068, 9072, 9076, 9080, 9084, 9088, 9091, 9094, 9098, 9102,
         9106, 9112, 9119, 9125, 9132, 9138, 9142, 9146, 9151, 9155,
         9159, 9164, 9171, 9177, 9184, 9190, 9197, 9202, 9206, 9210,
         9214, 9218, 9222, 9226, 9230, 9233, 9237, 9241, 9245, 9249,
         9253, 9257, 9261, 9265, 9269, 9273, 9276, 9280, 9284, 9288,
         9292, 9297]
gf_flux = [0.45, 0.73, 0.41, 0.40, 0.40, 0.42, 0.43, 0.40, 0.45, 0.51,
           0.45, 0.55, 0.43, 0.42, 0.43, 0.60, 0.81, 0.93, 1.03, 1.11,
           1.02, 0.86, 0.66, 0.55, 0.81, 0.98, 1.08, 1.09, 1.07, 0.93,
           0.85, 0.72, 0.65, 0.57, 0.52, 0.52, 0.48, 0.51, 0.47, 0.50,
           0.43, 0.42, 0.43, 0.42, 0.44, 0.42, 0.43, 0.43, 0.72, 1.6,
           1.21, 1.6, 0.64, 1.6, 1.6, 0.45, 0.43, 0.91, 0.43, 0.42,
           0.45, 0.52, 0.43, 0.42, 0.45, 1.6, 1.6, 0.90, 1.6, 0.45,
           0.46, 0.82, 0.46, 0.55, 0.52, 0.45, 1.11, 0.47, 0.45, 0.55,
           0.48, 1.6, 0.52, 0.50, 0.55, 0.52, 1.29, 0.48, 0.53, 0.48,
           1.6, 0.55, 0.50, 0.48, 0.52, 0.59, 1.24, 0.48, 0.47, 0.53,
           1.6, 0.53, 0.55, 0.52, 0.55, 0.57, 0.55, 0.59, 1.6, 0.55,
           1.6, 1.6, 0.55, 0.48, 0.47, 0.50, 0.52, 0.52, 0.52, 0.48,
           0.79, 0.55, 0.51, 1.02, 0.53, 0.50, 0.48, 0.52, 0.53, 0.50,
           0.48, 0.47, 0.51, 0.52, 0.69, 0.53, 0.52, 0.80, 0.52, 0.48,
           0.47, 0.47, 0.48, 0.48, 0.49, 0.52, 0.66, 0.58, 0.72, 0.52,
           0.51, 0.51, 0.50, 0.51, 0.50, 0.51, 0.52, 0.54, 0.66, 0.55,
           0.70, 0.53, 0.54, 0.52, 0.53, 0.54, 0.57, 0.59, 0.55, 0.62,
           0.69, 0.66, 0.53, 0.60, 0.67, 0.64, 0.71, 0.76, 0.69, 0.71,
           0.69, 0.67]

x_ticks = [5000, 6000, 7000, 8000, 9000]
y_ticks = [-1.0, -0.5, 0.0, 0.5, 1.0]
x_domain = [4748, 9299]
y_domain = [-1.248, 1.382]


def pairs(wls, fluxes):
    n = min(len(wls), len(fluxes))
    return wls[:n], fluxes[:n]


bw, bf = [], []
for w, f in [(a_wl, a_flux), (b_wl, b_flux), (c_wl, c_flux),
             (d_wl, d_flux), (e_wl, e_flux), (f_wl, f_flux)]:
    w2, f2 = pairs(w, f)
    bw += w2
    bf += f2
gw, gfl = [], []
for w, f in [(ga_wl, ga_flux), (gb_wl, gb_flux), (gc_wl, gc_flux),
             (gd_wl, gd_flux), (ge_wl, ge_flux), (gf_wl, gf_flux)]:
    w2, f2 = pairs(w, f)
    gw += w2
    gfl += f2

black_df = pd.DataFrame({"wl": bw, "flux": bf})
green_df = pd.DataFrame({"wl": gw, "flux": gfl})

FONT = "DejaVu Sans"

x_enc = alt.X(
    "wl:Q",
    scale=alt.Scale(domain=x_domain, nice=False, zero=False),
    axis=alt.Axis(
        values=x_ticks, format="d", title="Wavelength",
        labelFontSize=27.5, titleFontSize=32, labelFont=FONT, titleFont=FONT,
        titleFontWeight="normal", labelColor="black", titleColor="black",
        tickColor="black", tickWidth=2.5, tickSize=14, labelPadding=15,
        titleY=84, titleBaseline="alphabetic", grid=False, domain=False,
        labelFlush=False,
    ),
)
y_enc = alt.Y(
    "flux:Q",
    scale=alt.Scale(domain=y_domain, nice=False, zero=False),
    axis=alt.Axis(
        values=y_ticks, format=".1f", title="10⁻¹⁸ erg s⁻¹ cm⁻² Å⁻¹",
        labelFontSize=35, titleFontSize=47, labelFont=FONT, titleFont=FONT,
        titleFontWeight="normal", labelColor="black", titleColor="black",
        tickColor="black", tickWidth=2.5, tickSize=14, labelPadding=17,
        titleAngle=270, titleX=-149, titleY=346, titleAlign="center",
        titleBaseline="alphabetic", grid=False, domain=False, labelFlush=False,
    ),
)

zero_rule = alt.Chart(black_df).mark_rule(color="#0000ff", strokeWidth=5.5).encode(
    y=alt.datum(0.0)
)

green_line = alt.Chart(green_df).mark_line(
    color="#008000", strokeWidth=1.4, clip=True, strokeJoin="round"
).encode(x=x_enc, y=y_enc)

black_line = alt.Chart(black_df).mark_line(
    color="#000000", strokeWidth=4.2, clip=True, strokeJoin="round"
).encode(x=x_enc, y=y_enc)

chart = alt.layer(zero_rule, green_line, black_line).properties(
    width=2325,
    height=693,
    autosize=alt.AutoSizeParams(type="none"),
    padding={"left": 367, "top": 100, "right": 300, "bottom": 99},
    title=alt.TitleParams(
        text="Spectrum of object 30123 in candels-cdfs-33",
        fontSize=50, font=FONT, fontWeight="normal", color="black",
        anchor="middle", frame="group", offset=-22, baseline="alphabetic",
    ),
).configure_view(stroke="black", strokeWidth=2.5)

chart.save("out.html", embed_options={"renderer": "svg", "actions": False})
